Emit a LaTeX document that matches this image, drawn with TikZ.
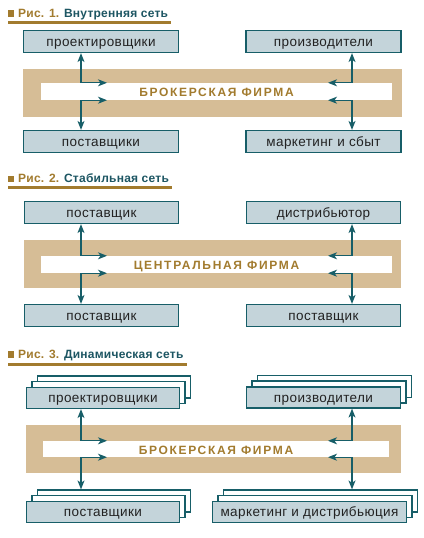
\documentclass[tikz,border=0pt]{standalone}
\usepackage{fontspec}
\setmainfont{Liberation Sans}
\usetikzlibrary{arrows.meta}
\definecolor{tline}{HTML}{175E68}
\definecolor{boxfill}{HTML}{C4D4DA}
\definecolor{tanc}{HTML}{D6BD96}
\definecolor{gold}{HTML}{A27B2E}
\definecolor{tdark}{HTML}{1D5663}
\definecolor{boxtext}{HTML}{222222}
\newcommand\stackbox[5]{%
  \draw[back] ({#2-#4/2+11},{#3-11-11}) rectangle ({#2+#4/2+11},{#3+11-11});
  \draw[back] ({#2-#4/2+5.5},{#3-11-5.5}) rectangle ({#2+#4/2+5.5},{#3+11-5.5});
  \node[box, minimum width=#4 pt, minimum height=21pt] (#1) at (#2,#3) {#5};}
\begin{document}
\begin{tikzpicture}[x=1pt,y=-1pt,
 box/.style={draw=tline, fill=boxfill, line width=1.2pt, minimum height=22pt, inner sep=0pt, text height=9pt, text depth=0pt, text=boxtext, font=\fontsize{13.5}{15}\selectfont\addfontfeatures{LetterSpace=3}},
 back/.style={draw=tline, fill=white, line width=1.2pt},
 band/.style={fill=white, inner sep=0pt, text height=10.6pt, text depth=0pt, text=gold, font=\bfseries\fontsize{12}{14}\selectfont\addfontfeatures{LetterSpace=14}},
 link/.style={draw=tline, line width=1.2pt, {Stealth[length=9pt,width=7pt,inset=2.5pt]}-{Stealth[length=9pt,width=7pt,inset=2.5pt]}},
 ttl/.style={anchor=base west, inner sep=0pt, font=\bfseries\fontsize{12}{14}\selectfont\addfontfeatures{LetterSpace=2}},
 rulel/.style={draw=gold, line width=3pt},
]
\useasboundingbox[fill=white] (0,0) rectangle (423,538);
\coordinate (xl) at (81,0);
\coordinate (xr) at (352,0);
\coordinate (hl) at (107,0);
\coordinate (hr) at (328,0);

% ---------- Fig 1
\fill[gold] (8,10) rectangle (14,16.5);
\node[ttl] (t1) at (18,17.3) {\textcolor{gold}{Рис. 1.} \textcolor{tdark}{Внутренняя сеть}};
\coordinate (u1) at ([xshift=3pt]t1.east);
\draw[rulel] (8,22) -- (u1 |- 0,22);
\fill[tanc] (23,69) rectangle (402,117);
\node[band, minimum width=351pt, minimum height=17pt] (f1) at (216.5,91.5) {БРОКЕРСКАЯ ФИРМА};
\node[box, minimum width=155pt] (a1) at (101,41.5) {проектировщики};
\node[box, minimum width=155pt] (b1) at (323.5,41.5) {производители};
\node[box, minimum width=155pt] (c1) at (101,141.5) {поставщики};
\node[box, minimum width=155pt] (d1) at (323.5,141.5) {маркетинг и сбыт};
\draw[link] (a1.south -| xl) |- (f1.north -| hl);
\draw[link] (f1.south -| hl) -| (c1.north -| xl);
\draw[link] (b1.south -| xr) |- (f1.north -| hr);
\draw[link] (f1.south -| hr) -| (d1.north -| xr);

% ---------- Fig 2
\fill[gold] (8,175.5) rectangle (14,182);
\node[ttl] (t2) at (18,182.8) {\textcolor{gold}{Рис. 2.} \textcolor{tdark}{Стабильная сеть}};
\coordinate (u2) at ([xshift=3pt]t2.east);
\draw[rulel] (8,187.5) -- (u2 |- 0,187.5);
\fill[tanc] (24,240) rectangle (401,288);
\node[band, minimum width=351pt, minimum height=17pt] (f2) at (216.5,264.5) {ЦЕНТРАЛЬНАЯ ФИРМА};
\node[box, minimum width=154pt] (a2) at (101.5,212.5) {поставщик};
\node[box, minimum width=154pt] (b2) at (323.5,212.5) {дистрибьютор};
\node[box, minimum width=154pt] (c2) at (101.5,315.5) {поставщик};
\node[box, minimum width=154pt] (d2) at (323.5,315.5) {поставщик};
\draw[link] (a2.south -| xl) |- (f2.north -| hl);
\draw[link] (f2.south -| hl) -| (c2.north -| xl);
\draw[link] (b2.south -| xr) |- (f2.north -| hr);
\draw[link] (f2.south -| hr) -| (d2.north -| xr);

% ---------- Fig 3
\fill[gold] (8,351) rectangle (14,357.5);
\node[ttl] (t3) at (18,358.3) {\textcolor{gold}{Рис. 3.} \textcolor{tdark}{Динамическая сеть}};
\coordinate (u3) at ([xshift=3pt]t3.east);
\draw[rulel] (8,364) -- (u3 |- 0,364);
\fill[tanc] (26,425) rectangle (401,473);
\node[band, minimum width=346pt, minimum height=16pt] (f3) at (216,449) {БРОКЕРСКАЯ ФИРМА};
\stackbox{a3}{103}{398}{153}{проектировщики}
\stackbox{b3}{323.5}{397.5}{154}{производители}
\stackbox{c3}{103}{512}{153}{поставщики}
\stackbox{d3}{309.5}{512}{194}{маркетинг и дистрибьюция}
\coordinate (c3top) at (0,{512-11-11-0.6});
\coordinate (d3top) at (0,{512-11-11-0.6});
\draw[link] (a3.south -| xl) |- (f3.north -| hl);
\draw[link] (f3.south -| hl) -| (c3top -| xl);
\draw[link] (b3.south -| xr) |- (f3.north -| hr);
\draw[link] (f3.south -| hr) -| (d3top -| xr);
\end{tikzpicture}
\end{document}
